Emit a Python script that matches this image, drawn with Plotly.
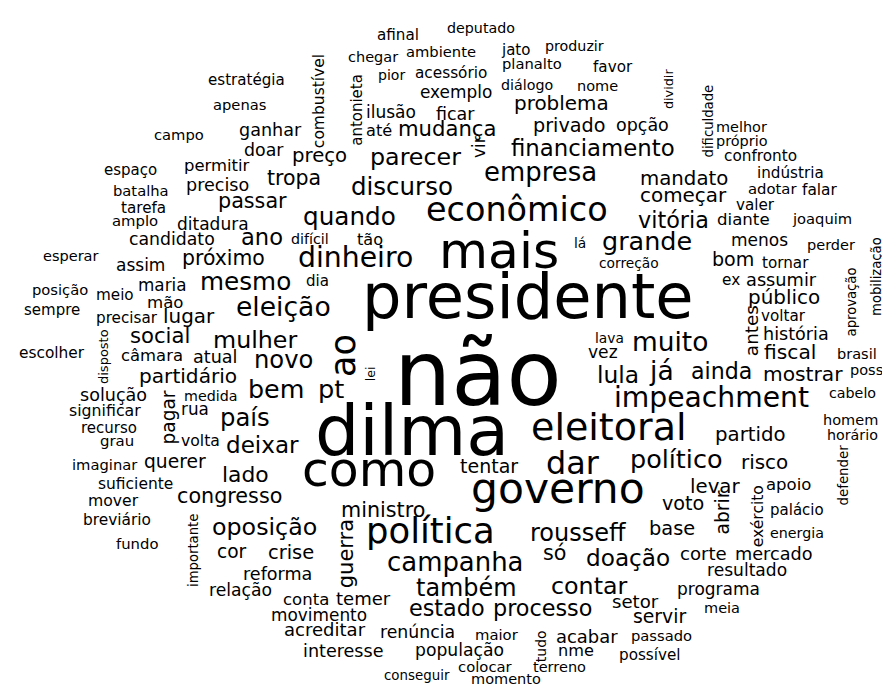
import plotly.graph_objects as go

# ---- horizontal words: word, font size (weight), x centre, baseline y (pixels) ----
words_h = ["afinal","deputado","chegar","ambiente","jato","pior","acessório","planalto","produzir","favor",
"diálogo","nome","exemplo","estratégia","apenas","ganhar","campo","doar","preço","permitir",
"tropa","preciso","passar","ditadura","quando","ano","difícil","tão","candidato","próximo",
"dinheiro","mesmo","dia","eleição","lugar","mulher","social","novo","atual","partidário",
"bem","pt","medida","rua","país","volta","deixar","querer","lado","espaço",
"batalha","tarefa","amplo","esperar","assim","posição","meio","maria","mão","sempre",
"precisar","escolher","câmara","solução","significar","recurso","grau","imaginar","suficiente","mover",
"breviário","fundo","congresso","oposição","cor","crise","reforma","relação","conta","temer",
"movimento","acreditar","interesse","ministro","política","campanha","também","estado","processo","renúncia",
"maior","população","conseguir","colocar","momento","terreno","nme","acabar","passado","possível",
"setor","servir","meia","programa","contar","resultado","corte","mercado","doação","só",
"rousseff","base","voto","levar","político","risco","apoio","palácio","energia","tentar",
"dar","eleitoral","impeachment","partido","cabelo","homem","horário","ainda","mostrar","posse",
"lula","já","vez","lava","muito","fiscal","brasil","história","voltar","público",
"ex","assumir","bom","tornar","menos","perder","diante","joaquim","valer","adotar",
"falar","indústria","confronto","próprio","melhor","vitória","começar","mandato","grande","lá",
"correção","mais","econômico","empresa","discurso","financiamento","parecer","privado","opção","problema",
"mudança","até","ficar","ilusão","presidente","não","dilma","como","governo"]

size_h = [16,15,15.3,15.5,15.8,14.8,16.1,15.5,15,16,
15,15.3,17.8,15.9,15.5,18.5,15.5,18.3,20.7,17.3,
21.6,18.5,21.8,17.9,26,23.8,15,17,18.2,21.5,
29.8,26,15.9,28,21,25,22.3,25.5,18.5,21.2,
26.7,27,15,17.7,25.6,16.5,24.3,19.7,23,15.8,
15.5,16,15.6,15.3,17.9,15.5,16,17.7,17.5,15.8,
16,16.2,17.3,18.5,16.6,15.8,15.7,15.5,16.3,16.5,
16.2,15.6,21.8,25,19.6,20.5,18.5,18.1,17.4,19,
17.8,19,18.5,21.8,37.3,27.3,25.2,23.5,23.5,18.2,
15.6,18.1,14.1,15.6,15.3,15.3,17,18.9,15.5,16,
19.1,19.8,15.3,17.9,25,18,19.1,18.6,24.4,21.8,
25.3,20.4,20.2,20.8,26.8,21,17.4,15.8,15,20,
33.5,40,29.7,20.8,15,15.3,15,23.3,21.3,15.3,
24.6,28,18,14.5,27.8,21.3,15.3,18.5,16,21,
16.1,18.7,20.1,16,17.9,15.3,17.5,15.5,16,15.6,
16.2,16,16.1,15.2,15.2,23.5,21,20.8,26.8,14.5,
14.5,53,35.2,27.3,25.8,24,25,20.2,18.4,21,
22.3,17,18.4,17.9,65.5,95,73.6,51.4,44.7]

x_h = [389.5,473,364.5,432.5,507,383.5,442.5,524,566,604.5,
518.5,589.5,447.5,238,231,262,170.5,255.5,311.5,209,
286,209,244.5,205,341,253.5,301.5,362,163.5,215,
347.5,237,309.5,275,180.5,247,151.5,275.5,206.5,180,
267.5,322.5,202.5,187,236.5,192.5,254,166.5,237.5,122,
133,135,127,62.5,132.5,51.5,106.5,154,157,44,
118.5,44,144,105.5,96.5,101,108.5,97,127.5,105,
108.5,129,221,256,224,282.5,269.5,232,298,355,
311,316.5,335,375,422.5,447,458.5,439,534,409,
489,451.5,409,477.5,497.5,551.5,567.5,579,653.5,641.5,
627,651.5,713.5,710,581,738.5,695,765.5,620,546.5,
570,664,674.5,706.5,668,756,780,788.5,788.5,481,
564.5,600.5,703,742.5,844,842,844.5,713.5,794.5,863,
609.5,653,594.5,601.5,662,781.5,848.5,788,775,776,
723,773.5,725,777.5,751.5,823,735,814,747.5,764,
811.5,782.5,752.5,733.5,733.5,665,675.5,675.5,639,571.5,
621,491,509,532.5,393.5,585,407,561,634.5,553.5,
439,371,447.5,382.5,520,470,403.5,361,550]

base_h = [32,25,54,49,47,72,70,61,43,64,
82,83,90,77,102,128,132,148,154,163,
177,183,200,222,217,237,236,237,237,257,
259,282,278,308,315,340,335,360,355,375,
390,390,393,407,418,438,445,460,474,167,
188,205,218,253,263,287,292,283,300,307,
315,350,353,393,408,425,438,462,481,498,
517,541,495,527,550,551,572,588,597,597,
613,628,649,509,535,563,588,608,608,630,
632,648,672,664,676,664,648,635,633,652,
600,615,605,587,586,568,552,552,558,552,
533,527,502,485,460,461,482,507,530,465,
466,432,399,433,390,417,432,371,373,367,
375,372,350,335,343,351,351,332,313,296,
277,278,258,260,238,242,217,216,202,186,
187,170,153,138,124,220,194,177,242,240,
260,260,213,173,187,148,157,124,123,102,
128,128,112,110,310,397,447,478,495]

# ---- vertical words (read bottom to top): word, font size, baseline x, y centre ----
words_v = ["combustível","antonieta","vir","dividir","dificuldade","aprovação","mobilização","antes","disposto",
           "pagar","ao","lei","importante","guerra","abrir","exército","defender","tudo"]
size_v = [15.5,15,17,12.8,13.2,13.2,13.2,18.4,13,18.6,35,12.5,13.2,21,18.7,15.5,13.3,14]
basex_v = [316,354,477,665,705,848,873,750,100,166,347,367,190,345,720,755,840,538]
y_v = [93.5,102,139,81.5,113,294,268.5,322.5,348.5,410,347,365.5,542.5,545.5,505,508.5,467,638]

FONT = "DejaVu Sans"
MID = 0.346      # distance from baseline to centre of the text box, in em
SCALE_H = 0.95   # overall scale of the horizontal word sizes

annotations = []
for w, s, x, b in zip(words_h, size_h, x_h, base_h):
    fs = s * SCALE_H
    annotations.append(dict(
        text=w, x=x, y=b - MID * fs, xref="x", yref="y",
        xanchor="center", yanchor="middle", showarrow=False,
        font=dict(family=FONT, size=fs, color="#000000")))
for w, s, bx, y in zip(words_v, size_v, basex_v, y_v):
    annotations.append(dict(
        text=w, x=bx - MID * s, y=y, xref="x", yref="y", textangle=-90,
        xanchor="center", yanchor="middle", showarrow=False,
        font=dict(family=FONT, size=s, color="#000000")))

fig = go.Figure()
fig.add_trace(go.Scatter(x=[], y=[], mode="markers", hoverinfo="skip", showlegend=False))
fig.update_layout(
    width=890, height=684,
    margin=dict(l=0, r=0, t=0, b=0),
    paper_bgcolor="white", plot_bgcolor="white",
    xaxis=dict(range=[0, 890], visible=False, fixedrange=True),
    yaxis=dict(range=[684, 0], visible=False, fixedrange=True),
    annotations=annotations,
    showlegend=False,
)
fig.write_html("out.html")
